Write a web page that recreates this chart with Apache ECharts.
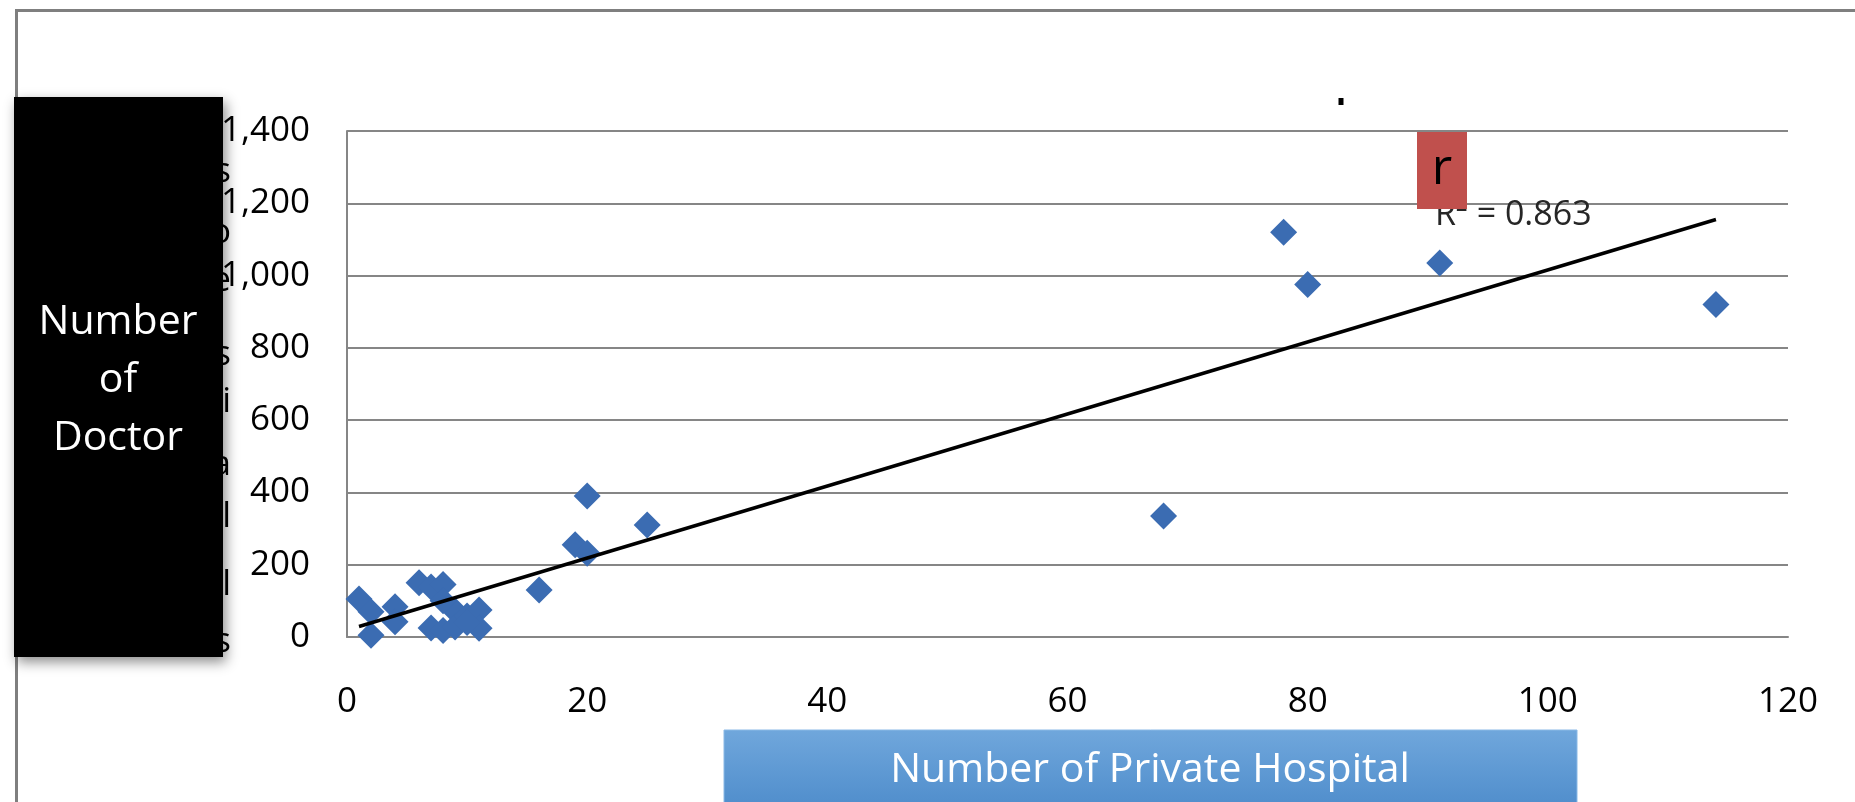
<!DOCTYPE html>
<html>
<head>
<meta charset="utf-8">
<title>Private Hospitals vs Doctors</title>
<script src="https://cdn.jsdelivr.net/npm/echarts@6/dist/echarts.min.js"></script>
<style>
  html, body { margin: 0; padding: 0; background: #ffffff; }
  #chart { width: 1855px; height: 802px; }
</style>
</head>
<body>
<div id="chart"></div>
<script>
// Number of private hospitals per region (x) and number of doctors (y)
const hospitals = [78, 80, 91, 114, 68, 25, 20, 19, 20, 16, 1, 2, 2, 4, 4, 6, 7, 8, 7, 8, 9, 9, 10, 11, 11, 10, 8];
const doctors   = [1120, 975, 1035, 920, 335, 310, 390, 255, 232, 130, 105, 70, 5, 84, 42, 150, 138, 145, 25, 18, 72, 28, 58, 75, 24, 40, 100];

// Linear trend line end points
const trendX = [1, 114];
const trendY = [29, 1155];
const rSquaredText = 'R\u00B2 = 0.863';

// Axis ticks
const xTicks = [0, 20, 40, 60, 80, 100, 120];
const yTicks = [0, 200, 400, 600, 800, 1000, 1200, 1400];

const xTitle = 'Number of Private Hospital';
const yTitleLines = ['Number', 'of', 'Doctor'];
// stacked letters of the original axis caption, mostly covered by the title box
const captionLetters = ['s', 'o', 'e', 's', 'i', 'a', 'l', 'l', 's'];

const FONT = '"Open Sans", "Noto Sans", sans-serif';
const chart = echarts.init(document.getElementById('chart'), null, { renderer: 'canvas' });

const points = hospitals.map((x, i) => [x, doctors[i]]);
const trend = trendX.map((x, i) => [x, trendY[i]]);

const captionY = [172, 233, 281, 355, 402, 465, 517, 585, 642];
const captionGraphics = captionLetters.map((ch, i) => ({
  type: 'text', z: 90, silent: true,
  style: { text: ch, x: 231, y: captionY[i], fontSize: 35, fontFamily: FONT,
           fill: '#000000', align: 'right', verticalAlign: 'middle' }
}));

const option = {
  animation: false,
  backgroundColor: '#ffffff',
  textStyle: { fontFamily: FONT },
  grid: { left: 347, right: 67, top: 131, bottom: 165, containLabel: false },
  xAxis: {
    type: 'value',
    min: xTicks[0],
    max: xTicks[xTicks.length - 1],
    interval: xTicks[1] - xTicks[0],
    axisLine: { show: true, onZero: false, lineStyle: { color: '#868686', width: 2 } },
    axisTick: { show: false },
    splitLine: { show: false },
    axisLabel: { color: '#000000', fontSize: 35, fontFamily: FONT, margin: 48 }
  },
  yAxis: {
    type: 'value',
    min: yTicks[0],
    max: yTicks[yTicks.length - 1],
    interval: yTicks[1] - yTicks[0],
    axisLine: { show: true, lineStyle: { color: '#868686', width: 2 } },
    axisTick: { show: false },
    splitLine: { show: true, lineStyle: { color: '#868686', width: 2 } },
    axisLabel: {
      color: '#000000', fontSize: 35, fontFamily: FONT, margin: 37,
      formatter: v => v.toLocaleString('en-US')
    }
  },
  series: [
    {
      type: 'scatter',
      data: points,
      symbol: 'diamond',
      symbolSize: 27,
      itemStyle: { color: '#3b6cb2', opacity: 1 },
      z: 2
    },
    {
      type: 'line',
      data: trend,
      showSymbol: false,
      symbol: 'none',
      lineStyle: { color: '#000000', width: 3.5 },
      z: 3
    }
  ],
  graphic: [
    // outer chart-area frame
    {
      type: 'rect', z: 1, silent: true,
      shape: { x: 16.5, y: 10.5, width: 2000, height: 1000 },
      style: { fill: 'none', stroke: '#7f7f7f', lineWidth: 3 }
    },
    // R-squared label of the trend line
    {
      type: 'text', z: 50, silent: true,
      style: { text: rSquaredText, x: 1435, y: 215, fontSize: 34, fontFamily: FONT,
               fill: '#262626', verticalAlign: 'middle' }
    },
    // red tag with "r"
    {
      type: 'rect', z: 60, silent: true,
      shape: { x: 1417, y: 132, width: 50, height: 77 },
      style: { fill: '#c0504d' }
    },
    {
      type: 'text', z: 61, silent: true,
      style: { text: 'r', x: 1442, y: 170, fontSize: 50, fontFamily: FONT,
               fill: '#000000', align: 'center', verticalAlign: 'middle' }
    },
    // small dot above the plot
    {
      type: 'rect', z: 50, silent: true,
      shape: { x: 1338.5, y: 98, width: 5, height: 7 },
      style: { fill: '#000000' }
    },
    ...captionGraphics,
    // y-axis title box
    {
      type: 'rect', z: 100, silent: true,
      shape: { x: 14, y: 97, width: 209, height: 560 },
      style: { fill: '#000000', shadowBlur: 12, shadowOffsetX: 3, shadowOffsetY: 5,
               shadowColor: 'rgba(0,0,0,0.45)' }
    },
    {
      type: 'text', z: 101, silent: true,
      style: { text: yTitleLines.join('\n'), x: 118, y: 380, fontSize: 41, lineHeight: 58,
               fontFamily: FONT, fill: '#ffffff', align: 'center', verticalAlign: 'middle' }
    },
    // x-axis title box
    {
      type: 'rect', z: 100, silent: true,
      shape: { x: 724, y: 730, width: 853, height: 90 },
      style: {
        fill: new echarts.graphic.LinearGradient(0, 0, 0, 1, [
          { offset: 0, color: '#70a7dc' },
          { offset: 1, color: '#4a89c9' }
        ]),
        stroke: '#8ab9e6', lineWidth: 1
      }
    },
    {
      type: 'text', z: 101, silent: true,
      style: { text: xTitle, x: 1150, y: 770, fontSize: 41, fontFamily: FONT,
               fill: '#ffffff', align: 'center', verticalAlign: 'middle' }
    }
  ]
};

chart.setOption(option);
</script>
</body>
</html>
